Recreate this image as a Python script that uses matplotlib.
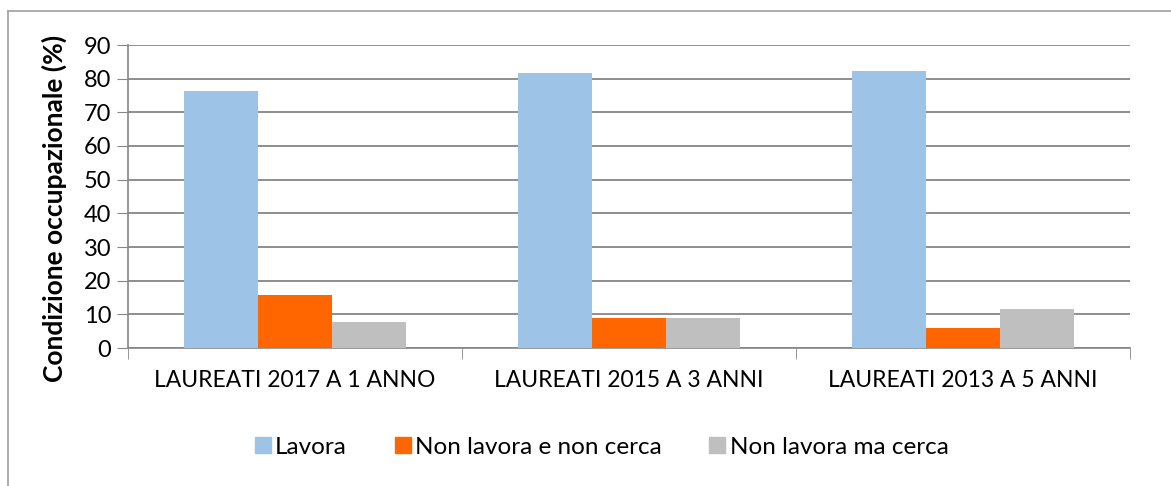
import matplotlib
matplotlib.use("Agg")
import matplotlib.pyplot as plt
import numpy as np
from matplotlib.lines import Line2D

plt.rcParams['font.family'] = ['Lato', 'DejaVu Sans']

categories = ["LAUREATI 2017 A 1 ANNO", "LAUREATI 2015 A 3 ANNI", "LAUREATI 2013 A 5 ANNI"]
series_names = ["Lavora", "Non lavora e non cerca", "Non lavora ma cerca"]
lavora = [76.3, 81.8, 82.3]
non_cerca = [15.7, 9.0, 5.8]
ma_cerca = [7.8, 9.0, 11.7]
colors = ["#9DC3E6", "#FF6600", "#BFBFBF"]
y_ticks = [0, 10, 20, 30, 40, 50, 60, 70, 80, 90]

fig = plt.figure(figsize=(11.71, 4.86), dpi=100)
ax = fig.add_axes([128 / 1171, 138 / 486, 1002 / 1171, 303 / 486])

x = np.arange(len(categories))
w = 1 / 4.5  # Excel gap width 150%
for i, (vals, c, name) in enumerate(zip([lavora, non_cerca, ma_cerca], colors, series_names)):
    ax.bar(x + (i - 1) * w, vals, w, color=c, label=name, zorder=3)

ax.set_xlim(-0.5, len(categories) - 0.5)
ax.set_ylim(0, 90)
ax.set_yticks(y_ticks)
ax.tick_params(axis='y', labelsize=17, length=8, color='#868686', pad=4)
ax.set_xticks(x)
ax.set_xticklabels(categories, fontsize=16.5)
ax.tick_params(axis='x', length=0, pad=16)
# category boundary ticks
ax.set_xticks(np.arange(-0.5, len(categories)), minor=True)
ax.tick_params(axis='x', which='minor', length=8, color='#868686')

ax.yaxis.grid(True, color='#868686', linewidth=1.3, zorder=0)
for s in ['top', 'right']:
    ax.spines[s].set_visible(False)
for s in ['left', 'bottom']:
    ax.spines[s].set_color('#868686')
    ax.spines[s].set_linewidth(1.2)

ax.set_ylabel("Condizione occupazionale (%)", fontsize=19, fontweight='bold')
ax.yaxis.set_label_coords(-0.061, 0.46)

handles = [Line2D([0], [0], marker='s', linestyle='none', markersize=11,
                  markerfacecolor=c, markeredgecolor=c) for c in colors]
fig.legend(handles, series_names, loc='center', bbox_to_anchor=(0.513, 0.08), ncol=3,
           frameon=False, fontsize=17.5, handletextpad=0.1, columnspacing=1.9,
           handlelength=0.8)

# outer chart frame (cropped at right and bottom)
fig.add_artist(Line2D([8 / 1171, 1], [1 - 11 / 486, 1 - 11 / 486], color='#A6A6A6', linewidth=1.3))
fig.add_artist(Line2D([8 / 1171, 8 / 1171], [0, 1 - 11 / 486], color='#A6A6A6', linewidth=1.3))

fig.savefig("out.png", dpi=100)
